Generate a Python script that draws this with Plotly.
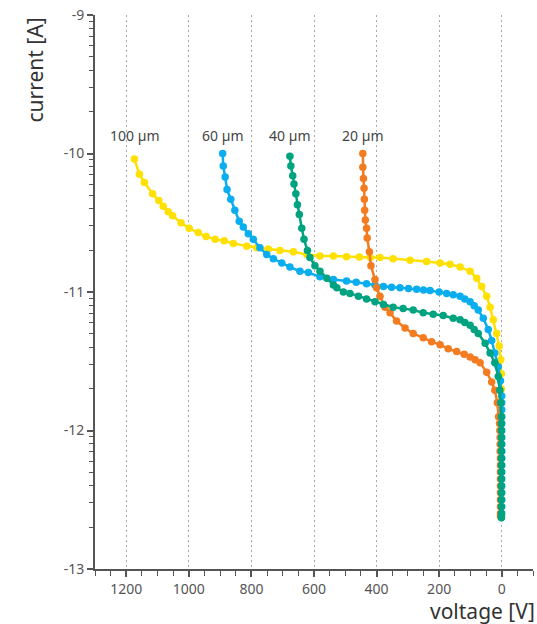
import plotly.graph_objects as go
import math

# ---- data (voltage in V, current as log10(A)) ----
labels = ["100 µm", "60 µm", "40 µm", "20 µm"]
colors = ["#FFE000", "#0AAEEF", "#00A37F", "#F47C20"]

tail = [-11.65, -11.7, -11.75, -11.8, -11.85, -11.9, -11.95, -12.0, -12.05, -12.1,
        -12.15, -12.2, -12.25, -12.3, -12.35, -12.4, -12.45, -12.5, -12.55, -12.6]

v_100 = [1174, 1158, 1142, 1116, 1096, 1082, 1066, 1052, 1025, 999, 970, 945, 916, 887,
         858, 815, 783, 746, 709, 666, 623, 581, 538, 496, 455, 420, 389, 347, 293, 240,
         197, 165, 133, 101, 80, 64, 48, 37, 27, 16, 8, 3, 1, 1, 1, 1, 1, 1, 1, 1, 1,
         1, 1, 1, 1, 1, 1, 1, 1, 1, 1]
i_100 = [-10.04, -10.15, -10.21, -10.29, -10.34, -10.38, -10.42, -10.45, -10.50, -10.54,
         -10.57, -10.60, -10.62, -10.63, -10.65, -10.67, -10.68, -10.69, -10.70, -10.71,
         -10.73, -10.74, -10.74, -10.745, -10.748, -10.75, -10.75, -10.76, -10.77, -10.78,
         -10.79, -10.80, -10.82, -10.85, -10.90, -10.96, -11.03, -11.11, -11.20, -11.30,
         -11.39, -11.49, -11.59] + tail[1:]

v_60 = [892, 890, 884, 878, 866, 853, 839, 826, 810, 794, 773, 751, 730, 703, 677, 645,
        618, 581, 538, 496, 465, 432, 405, 378, 352, 325, 298, 272, 250, 229, 200, 176,
        155, 133, 118, 101, 88, 75, 59, 43, 32, 22, 11, 4, 0, 0, 0, 0, 0, 0, 0, 0, 0,
        0, 0, 0, 0, 0, 0, 0, 0, 0]
i_60 = [-10.00, -10.09, -10.17, -10.26, -10.33, -10.41, -10.49, -10.53, -10.58, -10.62,
        -10.68, -10.73, -10.76, -10.79, -10.82, -10.85, -10.86, -10.89, -10.91, -10.92,
        -10.93, -10.94, -10.95, -10.96, -10.965, -10.97, -10.975, -10.98, -10.985, -10.99,
        -11.00, -11.01, -11.02, -11.03, -11.05, -11.07, -11.10, -11.13, -11.19, -11.27,
        -11.35, -11.44, -11.54, -11.64] + tail[2:]

v_40 = [677, 674, 668, 664, 658, 653, 647, 639, 632, 621, 613, 597, 581, 559, 538, 527,
        506, 485, 458, 432, 405, 378, 347, 315, 283, 251, 219, 187, 155, 133, 118, 101,
        88, 75, 53, 37, 22, 11, 6, 3, 1, 1, 1, 1, 1, 1, 1, 1, 1, 1, 1, 1, 1, 1, 1, 1, 1]
i_40 = [-10.02, -10.09, -10.16, -10.22, -10.29, -10.37, -10.44, -10.54, -10.62, -10.70,
        -10.75, -10.81, -10.85, -10.90, -10.95, -10.97, -11.00, -11.01, -11.03, -11.05,
        -11.07, -11.09, -11.11, -11.12, -11.13, -11.15, -11.16, -11.17, -11.19, -11.20,
        -11.22, -11.24, -11.27, -11.30, -11.37, -11.44, -11.51, -11.61, -11.71, -11.80,
        -11.90, -11.95, -12.0, -12.05, -12.1, -12.15, -12.2, -12.25, -12.3, -12.35,
        -12.4, -12.45, -12.5, -12.55, -12.6, -12.62, -12.63]

v_20 = [444, 444, 442, 440, 439, 438, 436, 432, 430, 423, 418, 405, 400, 389, 373, 357,
        336, 309, 283, 251, 224, 197, 171, 144, 120, 101, 85, 69, 48, 32, 22, 14, 10, 7,
        6, 5, 5, 5, 4, 4, 4, 4, 4, 4, 4, 4, 4, 4]
i_20 = [-10.00, -10.10, -10.18, -10.25, -10.33, -10.41, -10.48, -10.54, -10.61, -10.71,
        -10.81, -10.91, -10.97, -11.03, -11.11, -11.15, -11.21, -11.26, -11.30, -11.33,
        -11.36, -11.38, -11.41, -11.43, -11.45, -11.47, -11.49, -11.51, -11.58, -11.65,
        -11.71, -11.80, -11.90, -11.95, -12.0, -12.05, -12.1, -12.15, -12.2, -12.25,
        -12.3, -12.35, -12.4, -12.45, -12.5, -12.55, -12.6, -12.62]

series = [(v_100, i_100), (v_60, i_60), (v_20, i_20), (v_40, i_40)]
series_labels = [labels[0], labels[1], labels[3], labels[2]]
series_colors = [colors[0], colors[1], colors[3], colors[2]]

x_ticks = [1200, 1000, 800, 600, 400, 200, 0]
x_minor = list(range(1300, -101, -50))
y_ticks = [-13, -12, -11, -10, -9]
y_grid = [-12, -11, -10]
y_minor = [d + math.log10(k) for d in range(-13, -9) for k in range(2, 10)]
label_y = -9.87

font_family = "Noto Sans, Open Sans, sans-serif"
axis_col = "#555555"
grid_col = "#A8A8A8"
grid_dash = "2px,3px"

fig = go.Figure()
for (vv, ii), name, col in zip(series, series_labels, series_colors):
    n = min(len(vv), len(ii))
    fig.add_trace(go.Scatter(
        x=vv[:n], y=ii[:n], mode="lines+markers", name=name,
        line=dict(color=col, width=2.5),
        marker=dict(color=col, size=7.5),
        hoverinfo="skip", showlegend=False, yaxis="y",
    ))

for (vv, ii), name in zip(series, series_labels):
    fig.add_annotation(x=vv[0], y=label_y, xref="x", yref="y", text=name,
                       showarrow=False, font=dict(size=14, color="#444444", family=font_family),
                       xanchor="center", yanchor="middle")

fig.add_annotation(text="current [A]", xref="paper", yref="paper", x=-0.137, y=1.0,
                   textangle=-90, showarrow=False, xanchor="center", yanchor="top",
                   font=dict(size=21, color="#333333", family=font_family))
fig.add_annotation(text="voltage [V]", xref="paper", yref="paper", x=1.009, y=-0.075,
                   showarrow=False, xanchor="right", yanchor="middle",
                   font=dict(size=21, color="#333333", family=font_family))

fig.update_layout(
    width=537, height=624,
    margin=dict(l=95, r=4, t=15, b=55),
    paper_bgcolor="white", plot_bgcolor="white",
    font=dict(family=font_family, size=14, color="#555555"),
    xaxis=dict(
        range=[1300, -100], tickvals=x_ticks, ticktext=[str(t) for t in x_ticks],
        showline=True, linecolor=axis_col, linewidth=2,
        ticks="outside", ticklen=6, tickwidth=1.5, tickcolor=axis_col,
        showgrid=True, gridcolor=grid_col, griddash=grid_dash, gridwidth=1,
        zeroline=False,
        minor=dict(tickvals=x_minor, ticks="outside", ticklen=5, tickwidth=1.2,
                   tickcolor=axis_col, showgrid=False),
        tickfont=dict(size=14, color="#555555"),
    ),
    yaxis=dict(
        range=[-13, -9], tickvals=y_ticks, ticktext=[str(t) for t in y_ticks],
        showline=True, linecolor=axis_col, linewidth=2,
        ticks="outside", ticklen=6, tickwidth=1.5, tickcolor=axis_col,
        showgrid=False, zeroline=False,
        minor=dict(tickvals=y_minor, ticks="outside", ticklen=4, tickwidth=1.2,
                   tickcolor=axis_col, showgrid=False),
        tickfont=dict(size=14, color="#555555"),
    ),
    yaxis2=dict(
        range=[-13, -9], overlaying="y", side="left", tickvals=y_grid,
        showticklabels=False, ticks="", showline=False, zeroline=False,
        showgrid=True, gridcolor=grid_col, griddash=grid_dash, gridwidth=1,
    ),
)

fig.write_html("out.html", config={"displayModeBar": False},
               post_script="document.body.style.margin='0';")
